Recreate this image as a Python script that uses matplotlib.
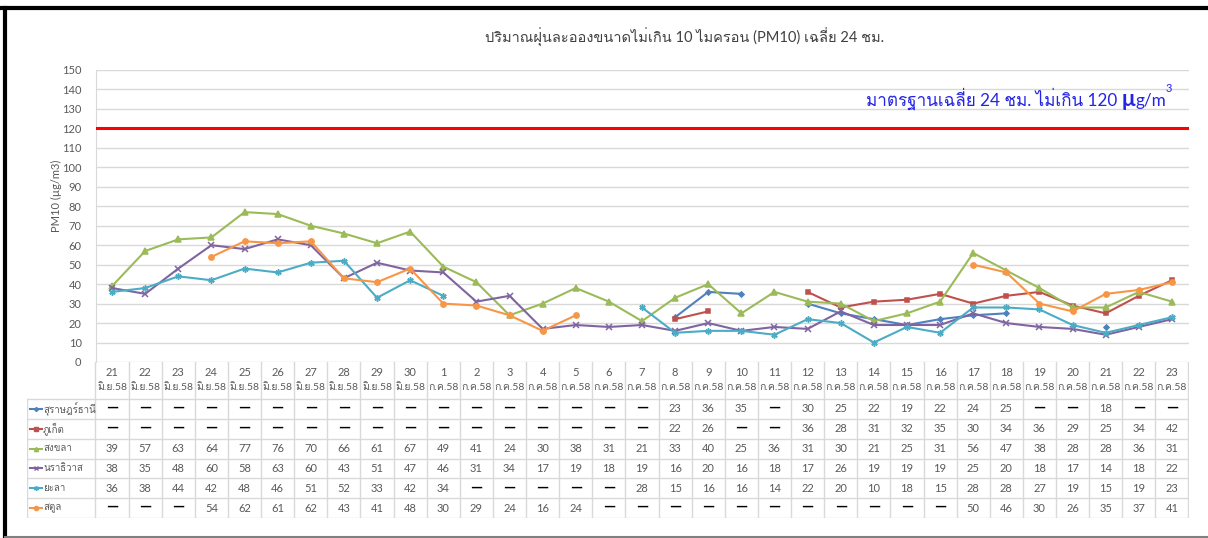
import numpy as np
import matplotlib
matplotlib.use("Agg")
import matplotlib.pyplot as plt
from matplotlib import font_manager
from matplotlib.ft2font import FT2Font

nan = np.nan

# ---- data ----
days = [21, 22, 23, 24, 25, 26, 27, 28, 29, 30,
        1, 2, 3, 4, 5, 6, 7, 8, 9, 10, 11, 12, 13, 14, 15, 16, 17, 18, 19, 20, 21, 22, 23]
months = ["มิ.ย.58"] * 10 + ["ก.ค.58"] * 23

surat = [nan] * 17 + [23, 36, 35, nan, 30, 25, 22, 19, 22, 24, 25, nan, nan, 18, nan, nan]
phuket = [nan] * 17 + [22, 26, nan, nan, 36, 28, 31, 32, 35, 30, 34, 36, 29, 25, 34, 42]
songkhla = [39, 57, 63, 64, 77, 76, 70, 66, 61, 67, 49, 41, 24, 30, 38, 31, 21,
            33, 40, 25, 36, 31, 30, 21, 25, 31, 56, 47, 38, 28, 28, 36, 31]
narathiwat = [38, 35, 48, 60, 58, 63, 60, 43, 51, 47, 46, 31, 34, 17, 19, 18, 19,
              16, 20, 16, 18, 17, 26, 19, 19, 19, 25, 20, 18, 17, 14, 18, 22]
yala = [36, 38, 44, 42, 48, 46, 51, 52, 33, 42, 34, nan, nan, nan, nan, nan, 28,
        15, 16, 16, 14, 22, 20, 10, 18, 15, 28, 28, 27, 19, 15, 19, 23]
satun = [nan, nan, nan, 54, 62, 61, 62, 43, 41, 48, 30, 29, 24, 16, 24, nan, nan,
         nan, nan, nan, nan, nan, nan, nan, nan, nan, 50, 46, 30, 26, 35, 37, 41]

names = ["สุราษฎร์ธานี", "ภูเก็ต", "สงขลา", "นราธิวาส", "ยะลา", "สตูล"]
series = [surat, phuket, songkhla, narathiwat, yala, satun]
colors = ["#4F81BD", "#C0504D", "#9BBB59", "#8064A2", "#4BACC6", "#F79646"]
markers = ["D", "s", "^", "x", (6, 2, 0), "o"]
msizes = [2.6, 3.4, 3.8, 4, 4.5, 3.8]

standard = 120


def thai_font():
    # find an installed font that can draw Thai
    for f in font_manager.fontManager.ttflist:
        try:
            if 0x0E01 in FT2Font(f.fname).get_charmap():
                return f.name
        except Exception:
            pass
    return None


th = thai_font()
fams = ["Lato"] + ([th] if th else []) + ["DejaVu Sans"]
plt.rcParams["font.family"] = fams

W, H = 1208, 538
fig = plt.figure(figsize=(W / 100, H / 100), dpi=100)

# pixel helpers
L, R = 95.5, 1188.5
TOP, BOT = 70, 362
TBOT = 518
n = len(days)
colw = (R - L) / n


def fx(px):
    return px / W


def fy(py):
    return 1 - py / H


# frame of the picture
fig.add_artist(plt.Line2D([fx(0), fx(W)], [fy(8), fy(8)], color="black", lw=3))
fig.add_artist(plt.Line2D([fx(5), fx(5)], [fy(8), fy(538)], color="black", lw=3))
fig.add_artist(plt.Line2D([fx(5), fx(W)], [fy(536.5), fy(536.5)], color="#808080", lw=1.5))

# ---- chart ----
ax = fig.add_axes([fx(L), fy(BOT), (R - L) / W, (BOT - TOP) / H])
x = np.arange(n)
for vals, c, m, ms in zip(series, colors, markers, msizes):
    ax.plot(x, vals, color=c, lw=1.5, marker=m, ms=ms, mew=1.1, zorder=3)

ax.axhline(standard, color="red", lw=2.2, zorder=4)
ax.set_xlim(-0.5, n - 0.5)
ax.set_ylim(0, 150)
ax.set_yticks(np.arange(0, 151, 10))
ax.set_xticks([])
ax.grid(axis="y", color="#D9D9D9", lw=1)
ax.set_axisbelow(True)
for s in ["top", "right", "bottom"]:
    ax.spines[s].set_visible(False)
ax.spines["left"].set_color("#D9D9D9")
ax.tick_params(axis="y", length=0, labelsize=8, labelcolor="#595959", pad=10)
ax.set_ylabel("PM10 (µg/m3)", fontsize=8, color="#595959", labelpad=4)
ax.yaxis.set_label_coords(-0.031, 0.57)

fig.text(fx(685), fy(37), "ปริมาณฝุ่นละอองขนาดไม่เกิน 10 ไมครอน (PM10) เฉลี่ย 24 ชม.",
         ha="center", va="center", fontsize=10.5, color="#404040")

# standard label, built from pieces
ybase = H - 106
blue = "#2424E6"
t1 = fig.text(fx(866), fy(106), "มาตรฐานเฉลี่ย 24 ชม. ไม่เกิน 120 ", fontsize=12.3,
              color=blue, va="baseline", ha="left")
t2 = fig.add_artist(plt.Annotation("μ", xy=(1, ybase), xycoords=(t1, "figure pixels"),
                                   fontsize=16, fontweight="bold", color=blue,
                                   va="baseline", ha="left"))
t3 = fig.add_artist(plt.Annotation("g/m", xy=(1, ybase), xycoords=(t2, "figure pixels"),
                                   fontsize=12.3, color=blue, va="baseline", ha="left"))
fig.add_artist(plt.Annotation("3", xy=(1, ybase + 14), xycoords=(t3, "figure pixels"),
                              fontsize=8, color=blue, va="baseline", ha="left"))

# ---- data table ----
lab_left = 27
tax = fig.add_axes([fx(lab_left), fy(TBOT), (R - lab_left) / W, (TBOT - BOT) / H])
x0 = -0.5 - (L - lab_left) / colw
tax.set_xlim(x0, n - 0.5)
tax.set_ylim(TBOT, BOT)
tax.axis("off")

grid_c = "#D9D9D9"
hdr = 399
rowh = (TBOT - hdr) / len(names)
for k in range(n + 1):
    tax.plot([k - 0.5, k - 0.5], [BOT, TBOT], color=grid_c, lw=1)
tax.plot([x0, x0], [hdr, TBOT], color=grid_c, lw=1)
for r in range(len(names) + 1):
    yy = hdr + r * rowh
    tax.plot([x0, n - 0.5], [yy, yy], color=grid_c, lw=1)

for i in range(n):
    tax.text(i, 373, str(days[i]), ha="center", va="center", fontsize=8, color="#595959")
    tax.text(i, 388, months[i], ha="center", va="center", fontsize=7.5, color="#595959")

for r, (nm, vals, c, m, ms) in enumerate(zip(names, series, colors, markers, msizes)):
    yc = hdr + (r + 0.5) * rowh
    lx0 = x0 + 3 / colw
    lx1 = x0 + 15 / colw
    tax.plot([lx0, lx1], [yc, yc], color=c, lw=1.5)
    tax.plot([(lx0 + lx1) / 2], [yc], color=c, marker=m, ms=ms * 0.8, mew=1)
    tax.text(x0 + 16 / colw, yc, nm, ha="left", va="center", fontsize=7, color="#595959")
    for i, v in enumerate(vals):
        if np.isnan(v):
            tax.text(i, yc - 1, "—", ha="center", va="center", fontsize=11,
                     fontweight="bold", color="black")
        else:
            tax.text(i, yc, "%d" % v, ha="center", va="center", fontsize=8, color="#595959")

fig.savefig("out.png", dpi=100)
